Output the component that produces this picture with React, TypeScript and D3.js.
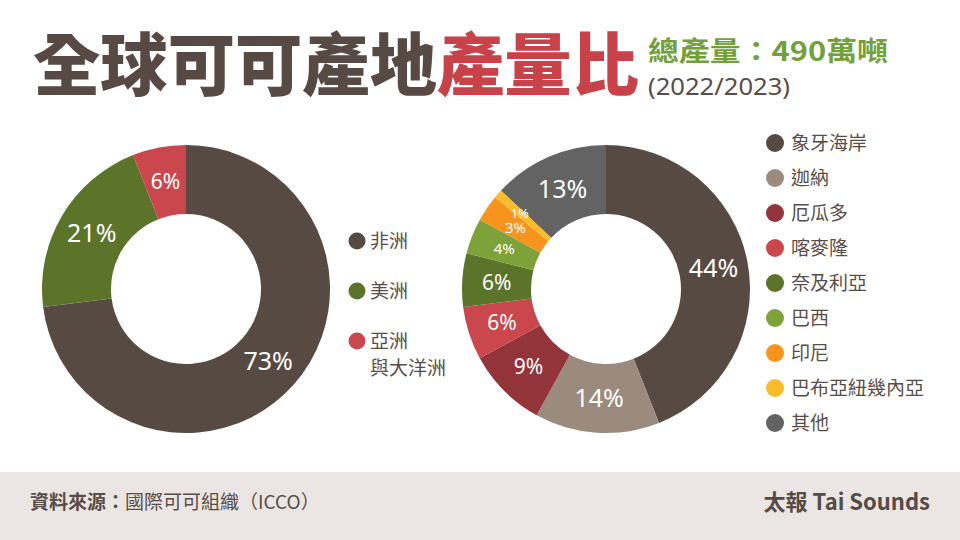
import React from 'react';
import * as d3 from 'd3';

// 左圖：各洲產量比
const regionNames = ['非洲', '美洲', '亞洲\n與大洋洲'];
const regionShares = [73, 21, 6];
const regionColors = ['#574a43', '#5b7429', '#c9474d'];

// 右圖：各國產量比
const countryNames = ['象牙海岸', '迦納', '厄瓜多', '喀麥隆', '奈及利亞', '巴西', '印尼', '巴布亞紐幾內亞', '其他'];
const countryShares = [44, 14, 9, 6, 6, 4, 3, 1, 13];
const countryColors = ['#574a43', '#9b8b7e', '#93333a', '#c9474d', '#5b7429', '#7ea23a', '#f7941d', '#fbbc2c', '#636363'];

const W = 960;
const H = 540;
const TEXT = '#5a4d47';
const CJK = '"Noto Sans CJK TC", "Noto Sans", sans-serif';
const NUM = '"Noto Sans", "Open Sans", sans-serif';

const pie = d3.pie<number>().sort(null).value((d) => d);
const arc = d3.arc<d3.PieArcDatum<number>>().innerRadius(75).outerRadius(144);
// 極小的扇形把標籤往外推一點，避免和鄰近標籤疊在一起
const outerLabelArc = d3.arc<d3.PieArcDatum<number>>().innerRadius(82).outerRadius(148);

function labelSize(v: number, big: number) {
  if (v >= 10) return big;
  if (v >= 5) return big - 4;
  if (v >= 2) return 15;
  return 13;
}

function Donut({ cx, cy, values, colors, big }: { cx: number; cy: number; values: number[]; colors: string[]; big: number }) {
  const slices = pie(values);
  return (
    <g transform={`translate(${cx},${cy})`}>
      {slices.map((s, i) => (
        <path key={i} d={arc(s) || ''} fill={colors[i]} />
      ))}
      {slices.map((s, i) => {
        const [x, y] = s.data < 2 ? outerLabelArc.centroid(s) : arc.centroid(s);
        return (
          <text key={'t' + i} x={x} y={y} dy="0.36em" textAnchor="middle" fill="#fff"
            fontFamily={NUM} fontSize={labelSize(s.data, big)}>
            {s.data}%
          </text>
        );
      })}
    </g>
  );
}

export default function App() {
  const leftY = d3.scalePoint<number>().domain(d3.range(regionNames.length)).range([241, 341]);
  const rightY = d3.scalePoint<number>().domain(d3.range(countryNames.length)).range([143, 423]);

  return (
    <svg width={W} height={H} style={{ position: 'absolute', left: 0, top: 0, background: '#fff' }}>
      <rect x={0} y={0} width={W} height={H} fill="#fff" />

      {/* 標題 */}
      <text x={33} y={90} fontFamily={CJK} fontWeight={900} fontSize={68}
        textLength={606} lengthAdjust="spacingAndGlyphs">
        <tspan fill="#574a44">全球可可產地</tspan>
        <tspan fill="#c8424a">產量比</tspan>
      </text>
      <text x={648} y={61} fontFamily={CJK} fontWeight={700} fontSize={27} fill="#72a03a"
        textLength={240} lengthAdjust="spacingAndGlyphs">
        總產量：490萬噸
      </text>
      <text x={648} y={95} fontFamily={NUM} fontSize={24} fill={TEXT}
        textLength={142} lengthAdjust="spacingAndGlyphs">
        (2022/2023)
      </text>

      <Donut cx={186} cy={289} values={regionShares} colors={regionColors} big={25} />
      <Donut cx={606} cy={289} values={countryShares} colors={countryColors} big={25} />

      {/* 左圖例 */}
      {regionNames.map((name, i) => {
        const y = leftY(i) as number;
        return (
          <g key={name}>
            <circle cx={357} cy={y} r={8.5} fill={regionColors[i]} />
            <text x={370} y={y} fontFamily={CJK} fontSize={19} fill={TEXT}>
              {name.split('\n').map((line, j) => (
                <tspan key={j} x={370} dy={j === 0 ? '0.36em' : 27}>{line}</tspan>
              ))}
            </text>
          </g>
        );
      })}

      {/* 右圖例 */}
      {countryNames.map((name, i) => {
        const y = rightY(i) as number;
        return (
          <g key={name}>
            <circle cx={775} cy={y} r={9} fill={countryColors[i]} />
            <text x={791} y={y} dy="0.36em" fontFamily={CJK} fontSize={19} fill={TEXT}>{name}</text>
          </g>
        );
      })}

      {/* 頁尾 */}
      <rect x={0} y={472} width={W} height={H - 472} fill="#ebe5e4" />
      <text x={30} y={502} dy="0.36em" fontFamily={CJK} fontSize={19} fill={TEXT}>
        <tspan fontWeight={700}>資料來源：</tspan>
        <tspan>國際可可組織（ICCO）</tspan>
      </text>
      <text x={930} y={502} dy="0.36em" textAnchor="end" fontFamily={CJK} fontWeight={700} fontSize={22} fill="#564b46">
        太報 Tai Sounds
      </text>
    </svg>
  );
}
